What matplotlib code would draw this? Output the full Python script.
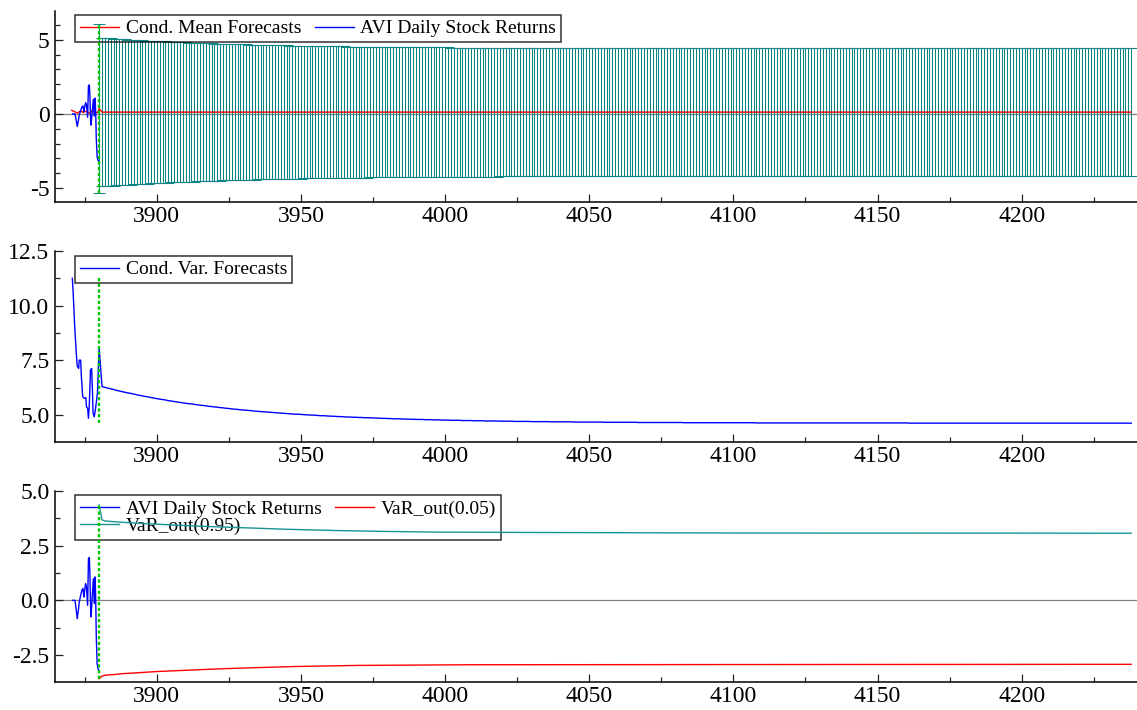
import numpy as np
import matplotlib
matplotlib.use("Agg")
import matplotlib.pyplot as plt
from matplotlib.ticker import MultipleLocator, FormatStrFormatter

plt.rcParams['font.family'] = ['Liberation Serif', 'DejaVu Serif']
plt.rcParams['axes.unicode_minus'] = False

# ---------------- data ----------------
# in-sample daily returns (AVI)
ret_x = [3870.8, 3871.6, 3872.0, 3872.4, 3872.8, 3873.1, 3873.6, 3874.0, 3874.4, 3874.7,
         3874.9, 3875.3, 3875.6, 3876.0, 3876.3, 3876.6, 3876.8, 3877.0, 3877.2, 3877.6,
         3878.0, 3878.3, 3878.6, 3878.8, 3879.0, 3879.3, 3879.6, 3879.9]
ret_y = [0.0, 0.0, -0.38, -0.84, -0.46, -0.08, 0.23, 0.46, 0.54, 0.15,
         0.38, 0.76, 0.61, -0.23, 1.91, 1.96, 1.22, -0.15, -0.76, 0.15,
         0.99, -0.15, 1.07, 0.15, -1.6, -2.9, -3.13, -3.2]

# in-sample conditional mean
mean_in_x = [3870.5, 3871.5, 3872.5, 3873.5, 3874.5, 3875.5, 3876.5, 3877.5, 3878.5, 3879.5]
mean_in_y = [0.24, 0.15, 0.05, 0.20, 0.10, 0.18, 0.05, 0.20, 0.08, 0.10]

# in-sample conditional variance
var_in_x = [3870.7, 3871.0, 3871.5, 3872.0, 3872.4, 3872.9, 3873.1, 3873.6, 3873.8, 3874.3,
            3874.9, 3875.4, 3875.6, 3876.0, 3876.3, 3876.6, 3877.0, 3877.4, 3877.7, 3877.9,
            3878.3, 3878.6, 3879.1, 3879.4]
var_in_y = [11.25, 10.56, 9.12, 7.97, 7.24, 7.13, 7.51, 7.51, 6.83, 5.84,
            5.76, 5.80, 5.38, 5.31, 4.85, 5.53, 7.06, 7.13, 5.99, 5.08,
            4.92, 5.15, 5.69, 5.99]

# forecast horizon
fc_days = np.arange(3880, 4239)
fc_mean = [0.36] + [0.12] * 358
fc_var = [
    8.08, 6.30, 6.27, 6.23, 6.20, 6.17, 6.13, 6.10, 6.07, 6.04,
    6.01, 5.99, 5.96, 5.93, 5.90, 5.88, 5.85, 5.83, 5.80, 5.78,
    5.75, 5.73, 5.71, 5.69, 5.66, 5.64, 5.62, 5.60, 5.58, 5.56,
    5.54, 5.52, 5.51, 5.49, 5.47, 5.45, 5.44, 5.42, 5.40, 5.39,
    5.37, 5.36, 5.34, 5.33, 5.31, 5.30, 5.28, 5.27, 5.26, 5.24,
    5.23, 5.22, 5.21, 5.20, 5.18, 5.17, 5.16, 5.15, 5.14, 5.13,
    5.12, 5.11, 5.10, 5.09, 5.08, 5.07, 5.06, 5.05, 5.04, 5.04,
    5.03, 5.02, 5.01, 5.00, 5.00, 4.99, 4.98, 4.97, 4.97, 4.96,
    4.95, 4.95, 4.94, 4.93, 4.93, 4.92, 4.91, 4.91, 4.90, 4.90,
    4.89, 4.89, 4.88, 4.88, 4.87, 4.87, 4.86, 4.86, 4.85, 4.85,
    4.84, 4.84, 4.83, 4.83, 4.83, 4.82, 4.82, 4.81, 4.81, 4.81,
    4.80, 4.80, 4.80, 4.79, 4.79, 4.79, 4.78, 4.78, 4.78, 4.77,
    4.77, 4.77, 4.76, 4.76, 4.76, 4.76, 4.75, 4.75, 4.75, 4.75,
    4.74, 4.74, 4.74, 4.74, 4.73, 4.73, 4.73, 4.73, 4.73, 4.72,
    4.72, 4.72, 4.72, 4.72, 4.71, 4.71, 4.71, 4.71, 4.71, 4.71,
    4.70, 4.70, 4.70, 4.70, 4.70, 4.70, 4.70, 4.69, 4.69, 4.69,
    4.69, 4.69, 4.69, 4.69, 4.69, 4.68, 4.68, 4.68, 4.68, 4.68,
    4.68, 4.68, 4.68, 4.68, 4.68, 4.67, 4.67, 4.67, 4.67, 4.67,
    4.67, 4.67, 4.67, 4.67, 4.67, 4.67, 4.67, 4.66, 4.66, 4.66,
    4.66, 4.66, 4.66, 4.66, 4.66, 4.66, 4.66, 4.66, 4.66, 4.66,
    4.66, 4.66, 4.66, 4.65, 4.65, 4.65, 4.65, 4.65, 4.65, 4.65,
    4.65, 4.65, 4.65, 4.65, 4.65, 4.65, 4.65, 4.65, 4.65, 4.65,
    4.65, 4.65, 4.65, 4.65, 4.65, 4.65, 4.65, 4.65, 4.64, 4.64,
    4.64, 4.64, 4.64, 4.64, 4.64, 4.64, 4.64, 4.64, 4.64, 4.64,
    4.64, 4.64, 4.64, 4.64, 4.64, 4.64, 4.64, 4.64, 4.64, 4.64,
    4.64, 4.64, 4.64, 4.64, 4.64, 4.64, 4.64, 4.64, 4.64, 4.64,
    4.64, 4.64, 4.64, 4.64, 4.64, 4.64, 4.64, 4.64, 4.64, 4.64,
    4.64, 4.64, 4.64, 4.64, 4.64, 4.64, 4.64, 4.64, 4.64, 4.64,
    4.64, 4.63, 4.63, 4.63, 4.63, 4.63, 4.63, 4.63, 4.63, 4.63,
    4.63, 4.63, 4.63, 4.63, 4.63, 4.63, 4.63, 4.63, 4.63, 4.63,
    4.63, 4.63, 4.63, 4.63, 4.63, 4.63, 4.63, 4.63, 4.63, 4.63,
    4.63, 4.63, 4.63, 4.63, 4.63, 4.63, 4.63, 4.63, 4.63, 4.63,
    4.63, 4.63, 4.63, 4.63, 4.63, 4.63, 4.63, 4.63, 4.63, 4.63,
    4.63, 4.63, 4.63, 4.63, 4.63, 4.63, 4.63, 4.63, 4.63, 4.63,
    4.63, 4.63, 4.63, 4.63, 4.63, 4.63, 4.63, 4.63, 4.63, 4.63,
    4.63, 4.63, 4.63, 4.63, 4.63, 4.63, 4.63, 4.63, 4.63,
]

# out-of-sample VaR
var_hi_x = [3880, 3881, 3882, 3885, 3888, 3896, 3905, 3915, 3930, 3945, 3963, 3980, 3997, 4040, 4100, 4238]
var_hi_y = [4.36, 3.68, 3.63, 3.60, 3.57, 3.51, 3.45, 3.39, 3.32, 3.25, 3.19, 3.15, 3.12, 3.10, 3.08, 3.07]
var_lo_x = [3880, 3881, 3882, 3885, 3888, 3894, 3900, 3914, 3923, 3935, 3948, 3970, 4008, 4100, 4238]
var_lo_y = [-3.59, -3.47, -3.43, -3.40, -3.36, -3.31, -3.26, -3.18, -3.13, -3.08, -3.03, -2.98, -2.95, -2.94, -2.93]

# ---------------- styling ----------------
BLUE = '#0000ff'
RED = '#ff0000'
TEAL = '#0a8585'
TEAL2 = '#1a9595'
GREEN = '#00c800'
GRAY = '#808080'
XLIM = (3864.7, 4240)

fig = plt.figure(figsize=(11.37, 7.10), dpi=100)
ax1 = fig.add_axes([0.0484, 0.7155, 0.9516, 0.269])
ax2 = fig.add_axes([0.0484, 0.3775, 0.9516, 0.269])
ax3 = fig.add_axes([0.0484, 0.0394, 0.9516, 0.269])


def style(ax, ylim, major, minor, fmt):
    ax.set_xlim(*XLIM)
    ax.set_ylim(*ylim)
    for s in ('top', 'right'):
        ax.spines[s].set_visible(False)
    for s in ('left', 'bottom'):
        ax.spines[s].set_linewidth(1.1)
    ax.xaxis.set_major_locator(MultipleLocator(50))
    ax.xaxis.set_minor_locator(MultipleLocator(25))
    ax.yaxis.set_major_locator(MultipleLocator(major))
    ax.yaxis.set_minor_locator(MultipleLocator(minor))
    ax.yaxis.set_major_formatter(FormatStrFormatter(fmt))
    ax.tick_params(which='both', direction='in', top=False, right=False,
                   labelsize=17, width=0.9, color='#222222')
    ax.tick_params(which='major', length=6)
    ax.tick_params(which='minor', length=3.5)
    ax.tick_params(axis='x', pad=3)
    ax.tick_params(axis='y', pad=4)


def add_legend(ax, handles, labels, ncol, anchor):
    leg = ax.legend(handles, labels, loc='upper left', bbox_to_anchor=anchor,
                    borderaxespad=0, ncol=ncol, fontsize=14, frameon=True,
                    fancybox=False, edgecolor='black', facecolor='none',
                    handlelength=2.0, handletextpad=0.35, columnspacing=0.7,
                    borderpad=0.25, labelspacing=0.0)
    leg.get_frame().set_linewidth(1.1)
    leg.set_zorder(3)
    return leg


# ---- panel 1: mean forecasts with error bars ----
ax1.axhline(0, color=GRAY, lw=0.9, zorder=1)
upper = np.array(fc_mean) + 2 * np.sqrt(fc_var)
lower = np.array(fc_mean) - 2 * np.sqrt(fc_var)
ax1.errorbar(fc_days, fc_mean, yerr=2 * np.sqrt(fc_var), fmt='none',
             ecolor=TEAL, elinewidth=0.75, capsize=4.5, capthick=0.75, zorder=2)
l_mean, = ax1.plot(list(mean_in_x) + list(fc_days), list(mean_in_y) + list(fc_mean),
                   color=RED, lw=1.0, zorder=4)
l_ret1, = ax1.plot(ret_x, ret_y, color=BLUE, lw=1.0, zorder=4)
ax1.vlines(fc_days[0], lower.min(), upper.max(), colors=GREEN,
           linestyles=(0, (1.4, 1.0)), lw=1.7, zorder=5)
style(ax1, (-5.95, 6.95), 5, 1, '%d')
add_legend(ax1, [l_mean, l_ret1], ['Cond. Mean Forecasts', 'AVI Daily Stock Returns'],
           2, (0.0185, 0.979))

# ---- panel 2: variance forecasts ----
all_var_x = list(var_in_x) + list(fc_days)
all_var_y = list(var_in_y) + list(fc_var)
l_var, = ax2.plot(all_var_x, all_var_y, color=BLUE, lw=1.0, zorder=4)
ax2.vlines(fc_days[0], min(all_var_y), max(all_var_y), colors=GREEN,
           linestyles=(0, (1.4, 1.0)), lw=1.7, zorder=5)
style(ax2, (3.77, 12.5), 2.5, 1.25, '%.1f')
add_legend(ax2, [l_var], ['Cond. Var. Forecasts'], 1, (0.0185, 0.974))

# ---- panel 3: VaR ----
ax3.axhline(0, color=GRAY, lw=0.9, zorder=1)
l_ret3, = ax3.plot(ret_x, ret_y, color=BLUE, lw=1.0, zorder=4)
l_lo, = ax3.plot(var_lo_x, var_lo_y, color=RED, lw=1.0, zorder=4)
l_hi, = ax3.plot(var_hi_x, var_hi_y, color=TEAL2, lw=1.0, zorder=4)
ax3.vlines(fc_days[0], min(var_lo_y), max(var_hi_y), colors=GREEN,
           linestyles=(0, (1.4, 1.0)), lw=1.7, zorder=5)
style(ax3, (-3.74, 5.0), 2.5, 1.25, '%.1f')
add_legend(ax3, [l_ret3, l_hi, l_lo],
           ['AVI Daily Stock Returns', 'VaR_out(0.95)', 'VaR_out(0.05)'],
           2, (0.0185, 0.979))

fig.savefig('out.png', dpi=100)
